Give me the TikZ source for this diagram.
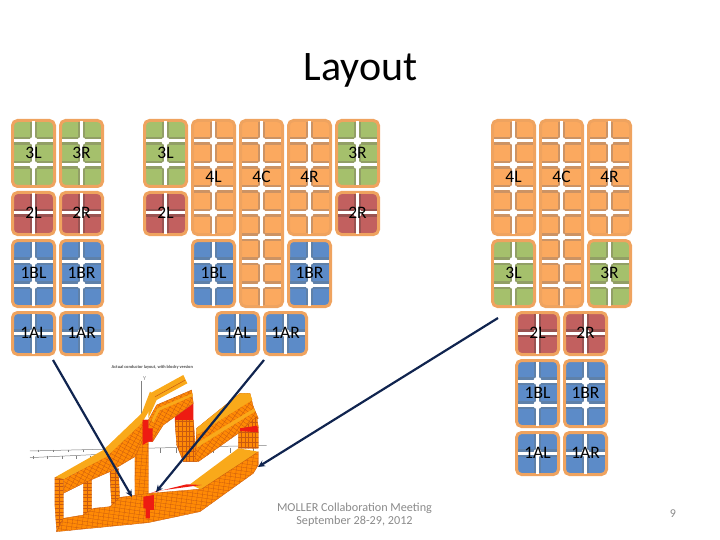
\documentclass[tikz,border=0pt]{standalone}
\usepackage{fontspec}
\setmainfont{Carlito}
\usetikzlibrary{arrows.meta, positioning}

\definecolor{ringorange}{HTML}{EFA35F}
\definecolor{greenfill}{HTML}{A5C06C}
\definecolor{greenband}{HTML}{929F66}
\definecolor{redfill}{HTML}{C2605F}
\definecolor{redband}{HTML}{9A5352}
\definecolor{bluefill}{HTML}{5C8BC8}
\definecolor{blueband}{HTML}{5F81A9}
\definecolor{orangefill}{HTML}{FBA95F}
\definecolor{orangeband}{HTML}{CC9364}
\definecolor{coilorange}{HTML}{FF8A05}
\definecolor{coiltop}{HTML}{F9A91A}
\definecolor{coilgrid}{HTML}{C85A10}
\definecolor{coilred}{HTML}{EE1C12}
\definecolor{navyarrow}{HTML}{10244F}
\definecolor{footgray}{HTML}{8A8A8A}

\begin{document}
\begin{tikzpicture}[
    x=1pt, y=-1pt,
    modlabel/.style={font=\fontsize{17.5}{19}\selectfont, inner sep=0pt},
    module/.style 2 args={draw=ringorange, line width=3pt, rounded corners=5pt, fill=#2fill,
        minimum width=42pt, minimum height={24pt*#1-6pt}, outer sep=0pt, inner sep=0pt},
    band/.style={line width=7.6pt},
    gap/.style={white, line width=3pt},
    coilface/.style={fill=coilorange, draw=coilgrid, line width=.3pt, path picture={
            \begin{scope}[shift={(path picture bounding box.center)}, rotate=#1]
            \foreach \k in {-25,...,25} {
                \draw[coilgrid, line width=.3pt] (-130pt,\k*3.6pt) -- (130pt,\k*3.6pt);
                \draw[coilgrid, line width=.3pt] (\k*5pt,-130pt) -- (\k*5pt,130pt);
            }
            \end{scope}
        }},
    coilcap/.style={fill=coiltop},
    hot/.style={fill=coilred},
    axisline/.style={gray, line width=.5pt},
    msg/.style={-{Stealth[length=7pt, width=6.5pt]}, navyarrow, line width=2.2pt}
]
\useasboundingbox (0,0) rectangle (720,540);

\node[font=\fontsize{42}{46}\selectfont, anchor=base] (title) at (360.5,80.5) {Layout};

% coil picture under the arrows
\begin{scope}[shift={(0,340)}, x=0.3333pt, y=-0.3333pt]
\node[font=\bfseries\fontsize{4.4}{5}\selectfont, text=black!70] (coiltitle) at (457,82) {Actual conductor layout, with blocky version};
\node[font=\fontsize{6}{7}\selectfont, text=gray] (ylabel) at (434,116) {Y};
\draw[axisline] (424,122) -- (424,222);
\draw[axisline] (90,333) -- (800,316);
\draw[axisline] (90,353) -- (300,343);
\foreach \t in {115,160,205,250} \draw[axisline] (\t,329) -- (\t,337);
\foreach \t in {100,142,186,228,270} \draw[axisline] (\t,347) -- (\t,357);
\foreach \t in {480,530,585,640,690,760} \draw[axisline] (\t,324) -- (\t,340);

% rear arches
\draw[coilface=90] (525,240) -- (580,240) -- (590,365) -- (550,365) -- (530,315) -- cycle;
\fill[hot] (525,230) -- (580,190) -- (580,240) -- (525,240) -- cycle;
\draw[coilface=-35] (590,265) -- (720,160) -- (750,160) -- (760,200) -- (775,235) -- (715,280) -- (595,365) -- (585,365) -- cycle;
\fill[coilcap] (590,265) -- (720,160) -- (750,160) -- (757,180) -- (590,285) -- cycle;
\fill[coilcap] (590,310) -- (762,205) -- (766,214) -- (592,322) -- cycle;
\draw[coilface=90] (715,280) -- (770,230) -- (775,260) -- (775,325) -- (715,325) -- cycle;
\fill[hot] (720,265) -- (772,257) -- (775,277) -- (720,273) -- cycle;

% upper band
\draw[coilface=-28] (445,240) -- (470,195) -- (575,150) -- (580,190) -- (525,230) -- (490,255) -- (458,305) -- (445,305) -- cycle;
\fill[coilcap] (445,205) -- (450,160) -- (550,105) -- (562,130) -- (470,180) -- (445,235) -- cycle;
\draw[coilgrid, line width=.5pt] (462,172) -- (556,120);
\fill[coilcap] (455,240) -- (472,205) -- (578,160) -- (578,168) -- (478,212) -- (460,248) -- cycle;

% front frame: pillars, top band, left side
\draw[coilface=0] (250,425) -- (275,420) -- (275,520) -- (250,525) -- cycle;
\draw[coilface=0] (330,395) -- (355,385) -- (360,500) -- (335,500) -- cycle;
\draw[coilface=-5] (405,345) -- (428,240) -- (445,240) -- (445,465) -- (405,470) -- cycle;
\draw[coilface=-28] (190,418) -- (320,348) -- (428,245) -- (428,300) -- (405,350) -- (330,395) -- (250,430) -- (190,460) -- cycle;
\fill[coilcap] (165,412) -- (310,330) -- (425,220) -- (450,155) -- (470,175) -- (425,250) -- (320,350) -- (185,420) -- cycle;
\draw[coilface=0] (165,412) -- (190,418) -- (190,535) -- (170,575) -- (165,500) -- cycle;

% front frame: bottom band
\fill[coilcap] (570,433) -- (715,325) -- (775,335) -- (750,355) -- (605,450) -- cycle;
\draw[coilface=-8] (190,535) -- (250,525) -- (280,505) -- (330,500) -- (360,472) -- (450,460) -- (605,447) -- (750,352) -- (775,335) -- (775,375) -- (760,400) -- (600,515) -- (445,548) -- (170,575) -- cycle;
\fill[hot] (450,460) -- (560,433) -- (605,435) -- (470,453) -- cycle;
\fill[hot] (428,240) -- (445,240) -- (445,265) -- (458,265) -- (458,305) -- (445,305) -- (428,315) -- cycle;
\fill[hot] (430,470) -- (462,465) -- (462,510) -- (450,510) -- (450,535) -- (437,535) -- (437,505) -- (430,505) -- cycle;
\end{scope}

% modules: name / left / top / rows / colour / label
\foreach \id/\x/\y/\n/\col/\txt in {a3L/11/119/3/green/3L, a3R/59/119/3/green/3R, a2L/11/191/2/red/2L, a2R/59/191/2/red/2R,
    a1BL/11/239/3/blue/1BL, a1BR/59/239/3/blue/1BR, a1AL/11/311/2/blue/1AL, a1AR/59/311/2/blue/1AR,
    b3L/143/119/3/green/3L, b2L/143/191/2/red/2L, b4L/191/119/5/orange/4L, b4C/239/119/8/orange/4C, b4R/287/119/5/orange/4R,
    b3R/335/119/3/green/3R, b2R/335/191/2/red/2R, b1BL/191/239/3/blue/1BL, b1BR/287/239/3/blue/1BR,
    b1AL/215/311/2/blue/1AL, b1AR/263/311/2/blue/1AR,
    c4L/491/119/5/orange/4L, c4C/539/119/8/orange/4C, c4R/587/119/5/orange/4R, c3L/491/239/3/green/3L, c3R/587/239/3/green/3R,
    c2L/515/311/2/red/2L, c2R/563/311/2/red/2R, c1BL/515/359/3/blue/1BL, c1BR/563/359/3/blue/1BR,
    c1AL/515/431/2/blue/1AL, c1AR/563/431/2/blue/1AR}
{
    \node[module={\n}{\col}] (\id) at (\x+22.5,\y+12*\n-1.5) {};
    \pgfmathtruncatemacro\lastrow{\n-1}
    \pgfmathsetmacro\laby{\y+12*min(\n,5)-2}
    \begin{scope}[shift={(\x,\y)}]
    \draw[band, \col band] (22.5,3) -- (22.5,24*\n-6);
    \foreach \k in {1,...,\lastrow} \draw[band, \col band] (3,24*\k-2) -- (42,24*\k-2);
    \foreach \k in {1,...,\lastrow} {
        \draw[gap] (3,24*\k-2) -- (42,24*\k-2);
        \fill[white] (22.5,24*\k-2) circle (4.2pt);
    }
    \draw[gap] (22.5,2.5) -- (22.5,24*\n-5.5);
    \end{scope}
    \node[modlabel] (\id-text) at (\x+22.5,\laby) {\txt};
}

\coordinate (startA) at (53,360);
\coordinate (startB) at (264,360);
\coordinate (startC) at (498,318);
\coordinate (hitA) at (132,497);
\coordinate (hitB) at (156,492);
\coordinate (hitC) at (258,467);

\draw[msg] (startA) -- (hitA);
\draw[msg] (startB) -- (hitB);
\draw[msg] (startC) -- (hitC);

\node[align=center, text=footgray, font=\fontsize{12.2}{13.2}\selectfont] (footer) at (354.5,514.5) {MOLLER Collaboration Meeting\\September 28-29, 2012};
\node[text=footgray, font=\fontsize{12}{14}\selectfont] (pagenum) at (673,514) {9};
\end{tikzpicture}
\end{document}
